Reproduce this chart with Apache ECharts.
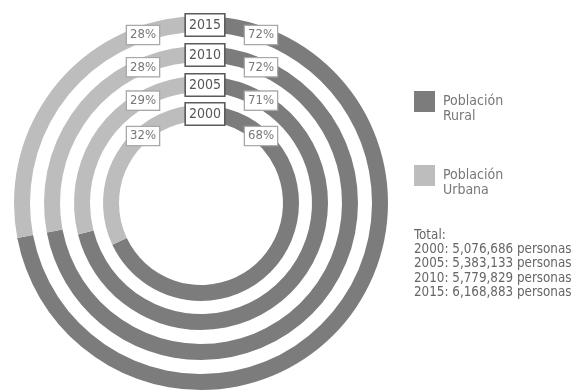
<!DOCTYPE html>
<html>
<head>
<meta charset="utf-8">
<script src="https://cdn.jsdelivr.net/npm/echarts@6/dist/echarts.min.js"></script>
<style>
  html, body { margin: 0; padding: 0; background: #fff; }
  #chart { width: 576px; height: 392px; }
</style>
</head>
<body>
<div id="chart"></div>
<script>
// Population split (urban / rural) by census year, innermost ring first
const years = ['2000', '2005', '2010', '2015'];
const rural = [68, 71, 72, 72];
const urban = [32, 29, 28, 28];
const totals = ['5,076,686', '5,383,133', '5,779,829', '6,168,883'];
const seriesNames = ['Población\nRural', 'Población\nUrbana'];

const FONT = '"DejaVu Sans Condensed", "Liberation Sans Narrow", sans-serif';
const RURAL_COLOR = '#7c7c7c';
const URBAN_COLOR = '#bdbdbd';

// ring geometry
const cx = 201, cy = 203;
const outerR = [98, 127, 157, 187];
const ringW = 16;
const labelDx = 59;

const series = years.map((y, i) => ({
  type: 'pie',
  name: y,
  center: [cx, cy],
  radius: [outerR[i] - ringW, outerR[i]],
  startAngle: 90,
  clockwise: true,
  silent: true,
  animation: false,
  label: { show: false },
  labelLine: { show: false },
  itemStyle: { borderWidth: 0 },
  data: [
    { name: seriesNames[0], value: rural[i], itemStyle: { color: RURAL_COLOR } },
    { name: seriesNames[1], value: urban[i], itemStyle: { color: URBAN_COLOR } }
  ]
}));

const graphic = [];
years.forEach((y, i) => {
  const rc = outerR[i] - ringW / 2;
  // year tag at the top of each ring
  graphic.push({
    type: 'text', z: 20,
    x: cx + 4, y: cy - rc + 1,
    style: {
      text: y, align: 'center', verticalAlign: 'middle',
      font: '14px ' + FONT, fill: '#555',
      backgroundColor: '#fff', borderColor: '#5a5a5a', borderWidth: 1.6,
      padding: [4, 3, 3, 3]
    }
  });
  const py = cy - Math.sqrt(rc * rc - labelDx * labelDx);
  // urban share (left) and rural share (right)
  [[-labelDx, urban[i]], [labelDx, rural[i]]].forEach(([dx, v]) => {
    graphic.push({
      type: 'text', z: 20,
      x: cx + dx + 1, y: py + 1,
      style: {
        text: v + '%', align: 'center', verticalAlign: 'middle',
        font: '13px ' + FONT, fill: '#777',
        backgroundColor: '#fff', borderColor: '#a8a8a8', borderWidth: 1.3,
        padding: [3, 3, 2, 3]
      }
    });
  });
});

// totals block
const totalLines = ['Total:'].concat(years.map((y, i) => y + ': ' + totals[i] + ' personas'));
graphic.push({
  type: 'text', z: 20,
  x: 414, y: 228,
  style: {
    text: totalLines.join('\n'),
    font: '13.3px ' + FONT, fill: '#666',
    lineHeight: 14.3, align: 'left', verticalAlign: 'top'
  }
});

const chart = echarts.init(document.getElementById('chart'), null, { renderer: 'canvas' });
chart.setOption({
  animation: false,
  backgroundColor: '#fff',
  legend: {
    data: seriesNames,
    orient: 'vertical',
    left: 414, top: 79,
    padding: 0,
    icon: 'rect',
    itemWidth: 21, itemHeight: 21,
    itemGap: 29,
    selectedMode: false,
    // blank first line drops the two-line caption below the swatch centre
    formatter: name => '\n' + name,
    textStyle: {
      fontFamily: FONT, fontSize: 14, color: '#777', lineHeight: 15,
      padding: [0, 0, 0, 3]
    }
  },
  graphic: graphic,
  series: series
});
</script>
</body>
</html>
